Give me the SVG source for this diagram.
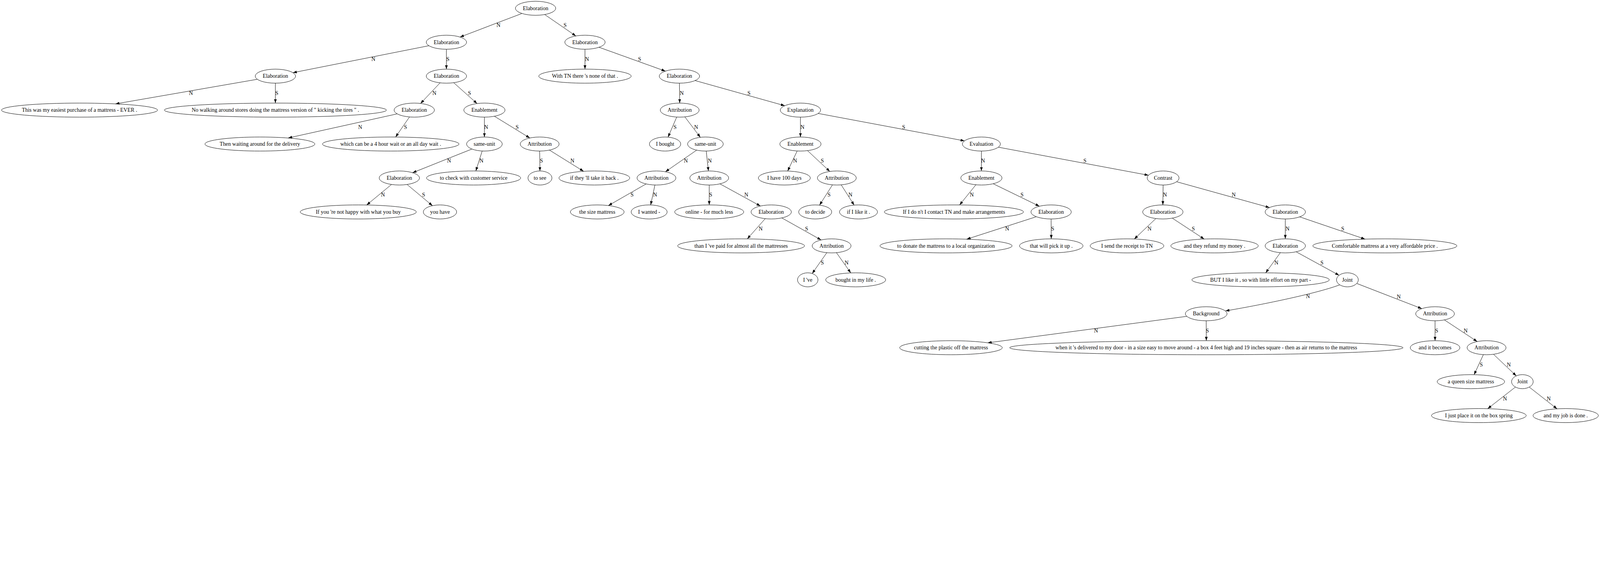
<svg xmlns="http://www.w3.org/2000/svg" width="5473" height="1451" viewBox="0 0 5473 1451">
<style>
svg{width:100vw;height:calc(100vw * 0.265119);display:block}
.nd ellipse{fill:none;stroke:#000;stroke-width:1.33}
text{font-family:"Liberation Serif","Times New Roman",serif;font-size:18.67px;text-anchor:middle;fill:#000}
.ed path{fill:none;stroke:#000;stroke-width:1.33;marker-end:url(#arr)}
</style>
<defs>
<marker id="arr" markerUnits="userSpaceOnUse" markerWidth="14" markerHeight="10" viewBox="0 0 14 10" refX="13.3" refY="4.67" orient="auto"><path d="M0,0 L13.3,4.67 L0,9.33 z" fill="#000"/></marker>
</defs>
<rect width="5473" height="1451" fill="#fff"/>
<g id="edges" class="ed">
<g id="e1"><path d="M1785.4,46.0 L1573.6,126.7"/><text x="1705" y="92.3">N</text></g>
<g id="e2"><path d="M1863.2,49.7 L1969.8,123.0"/><text x="1933" y="92.3">S</text></g>
<g id="e3"><path d="M1467.1,156.3 L1001.9,248.5"/><text x="1277" y="208.4">N</text></g>
<g id="e4"><path d="M1527,168.4 L1527,236.4"/><text x="1532" y="208.4">S</text></g>
<g id="e5"><path d="M2001,168.4 L2001,236.4"/><text x="2008" y="208.4">N</text></g>
<g id="e6"><path d="M2049.0,161.6 L2276.0,243.2"/><text x="2188" y="208.4">S</text></g>
<g id="e7"><path d="M880.2,271.1 L395.0,355.2"/><text x="653" y="324.4">N</text></g>
<g id="e8"><path d="M942,284.4 L942,352.5"/><text x="947" y="324.4">S</text></g>
<g id="e9"><path d="M1505.4,283.2 L1438.6,353.7"/><text x="1486" y="324.4">N</text></g>
<g id="e10"><path d="M1552.0,282.8 L1631.9,354.1"/><text x="1606" y="324.4">S</text></g>
<g id="e11"><path d="M2324,284.4 L2325,352.5"/><text x="2332" y="324.4">N</text></g>
<g id="e12"><path d="M2377.7,275.5 L2684.3,361.4"/><text x="2562" y="324.4">S</text></g>
<g id="e13"><path d="M1358.7,389.3 L986,471.7"/><text x="1232" y="440.5">N</text></g>
<g id="e14"><path d="M1400.8,399.8 L1353.1,468.6"/><text x="1387" y="440.5">S</text></g>
<g id="e15"><path d="M1657,400.5 L1657,468.5"/><text x="1663" y="440.5">N</text></g>
<g id="e16"><path d="M1691.2,397.5 L1812.3,471.8"/><text x="1769" y="440.5">S</text></g>
<g id="e17"><path d="M2314.8,400.2 L2285.2,468.9"/><text x="2309" y="440.5">S</text></g>
<g id="e18"><path d="M2342.6,399.6 L2395.6,469.5"/><text x="2381" y="440.5">N</text></g>
<g id="e19"><path d="M2738,400.5 L2738,468.5"/><text x="2745" y="440.5">N</text></g>
<g id="e20"><path d="M2798.7,387.9 L3299.0,481.6"/><text x="3091" y="440.5">S</text></g>
<g id="e21"><path d="M1614.2,509.6 L1411.4,590.5"/><text x="1536" y="556.5">N</text></g>
<g id="e22"><path d="M1649.4,516.3 L1627.6,584.6"/><text x="1647" y="556.5">N</text></g>
<g id="e23"><path d="M1846,516.5 L1847,584.6"/><text x="1852" y="556.5">S</text></g>
<g id="e24"><path d="M1879.4,513.2 L1996.2,585.7"/><text x="1958" y="556.5">N</text></g>
<g id="e25"><path d="M2382.9,513.4 L2276.2,587.3"/><text x="2346" y="556.5">N</text></g>
<g id="e26"><path d="M2415.7,516.5 L2423.3,584.6"/><text x="2428" y="556.5">N</text></g>
<g id="e27"><path d="M2726.8,516.2 L2694.3,584.8"/><text x="2720" y="556.5">N</text></g>
<g id="e28"><path d="M2762.2,515.0 L2838.5,586.2"/><text x="2813" y="556.5">S</text></g>
<g id="e29"><path d="M3357,516.5 L3357,584.6"/><text x="3362.5" y="556.5">N</text></g>
<g id="e30"><path d="M3415.0,503.3 L3928.4,599.2"/><text x="3711" y="556.5">S</text></g>
<g id="e31"><path d="M1339.2,630.7 L1254.2,701.0"/><text x="1310" y="672.6">N</text></g>
<g id="e32"><path d="M1392.5,630.8 L1479.3,703.3"/><text x="1449" y="672.6">S</text></g>
<g id="e33"><path d="M2210.1,628.9 L2081.1,702.9"/><text x="2162" y="672.6">S</text></g>
<g id="e34"><path d="M2240.3,632.5 L2225.7,700.8"/><text x="2241" y="672.6">N</text></g>
<g id="e35"><path d="M2426,632.6 L2426,700.7"/><text x="2431" y="672.6">S</text></g>
<g id="e36"><path d="M2462.6,628.6 L2601.0,704.4"/><text x="2553" y="672.6">N</text></g>
<g id="e37"><path d="M2847.6,632.0 L2803.3,701.5"/><text x="2836" y="672.6">S</text></g>
<g id="e38"><path d="M2877.4,632.0 L2921.7,701.3"/><text x="2909" y="672.6">N</text></g>
<g id="e39"><path d="M3338.3,631.7 L3282.4,700.8"/><text x="3324" y="672.6">N</text></g>
<g id="e40"><path d="M3397.4,628.3 L3555.4,705.2"/><text x="3496" y="672.6">S</text></g>
<g id="e41"><path d="M3978.6,632.6 L3977.7,700.7"/><text x="3985" y="672.6">N</text></g>
<g id="e42"><path d="M4024.7,621.4 L4342.6,709.7"/><text x="4220" y="672.6">N</text></g>
<g id="e43"><path d="M2617.6,747.6 L2556.2,816.8"/><text x="2602" y="788.7">N</text></g>
<g id="e44"><path d="M2674.3,745.1 L2808.7,820.5"/><text x="2759" y="788.7">S</text></g>
<g id="e45"><path d="M3544.9,741.0 L3306.6,817.9"/><text x="3445" y="788.7">N</text></g>
<g id="e46"><path d="M3595.5,748.7 L3596,816.7"/><text x="3601" y="788.7">S</text></g>
<g id="e47"><path d="M3953.9,747.2 L3879.9,817.2"/><text x="3932" y="788.7">N</text></g>
<g id="e48"><path d="M4010.0,745.9 L4119.0,817.4"/><text x="4082" y="788.7">S</text></g>
<g id="e49"><path d="M4396.5,748.7 L4396.5,816.7"/><text x="4404" y="788.7">N</text></g>
<g id="e50"><path d="M4445.8,741.5 L4669.3,817.6"/><text x="4593" y="788.7">S</text></g>
<g id="e51"><path d="M2828.2,864.0 L2778.2,935.2"/><text x="2813" y="904.7">S</text></g>
<g id="e52"><path d="M2861.1,863.9 L2910.2,933.1"/><text x="2896" y="904.7">N</text></g>
<g id="e53"><path d="M4379.6,864.0 L4329.4,932.9"/><text x="4366" y="904.7">N</text></g>
<g id="e54"><path d="M4433.6,860.9 L4580.6,941.3"/><text x="4522" y="904.7">S</text></g>
<g id="e55"><path d="M4582.5,974 C4500,1005 4300,1045 4192,1063"/><text x="4474" y="1019.5">N</text></g>
<g id="e56"><path d="M4641.0,969.2 L4863.5,1055.3"/><text x="4784.6" y="1020.8">N</text></g>
<g id="e57"><path d="M4059.6,1081.6 L3378.8,1172.2"/><text x="3749" y="1136.8">N</text></g>
<g id="e58"><path d="M4126,1096.8 L4126.4,1164.9"/><text x="4130" y="1136.8">S</text></g>
<g id="e59"><path d="M4908.8,1096.8 L4908.8,1164.9"/><text x="4914.5" y="1136.8">S</text></g>
<g id="e60"><path d="M4940.7,1093.8 L5053.0,1167.8"/><text x="5013.5" y="1136.8">N</text></g>
<g id="e61"><path d="M5074.1,1212.6 L5042.4,1281.1"/><text x="5067" y="1252.9">S</text></g>
<g id="e62"><path d="M5108.7,1211.3 L5186.6,1285.2"/><text x="5161" y="1252.9">N</text></g>
<g id="e63"><path d="M5183.8,1323.4 L5088.8,1397.4"/><text x="5148" y="1369">N</text></g>
<g id="e64"><path d="M5231.1,1323.5 L5326.1,1397.9"/><text x="5297.7" y="1369">N</text></g>
</g>
<g id="nodes" class="nd">
<g id="n0"><ellipse cx="1832" cy="28.3" rx="69" ry="24"/><text x="1832" y="34.3">Elaboration</text></g>
<g id="n1"><ellipse cx="1527" cy="144.4" rx="69" ry="24"/><text x="1527" y="150.4">Elaboration</text></g>
<g id="n2"><ellipse cx="2001" cy="144.4" rx="69" ry="24"/><text x="2001" y="150.4">Elaboration</text></g>
<g id="n3"><ellipse cx="942" cy="260.4" rx="69" ry="24"/><text x="942" y="266.4">Elaboration</text></g>
<g id="n4"><ellipse cx="1527" cy="260.4" rx="69" ry="24"/><text x="1527" y="266.4">Elaboration</text></g>
<g id="n5"><ellipse cx="2001" cy="260.4" rx="158" ry="24"/><text x="2001" y="266.4">With TN there 's none of that .</text></g>
<g id="n6"><ellipse cx="2324" cy="260.4" rx="69" ry="24"/><text x="2324" y="266.4">Elaboration</text></g>
<g id="n7"><ellipse cx="272" cy="376.5" rx="267" ry="24"/><text x="272" y="382.5">This was my easiest purchase of a mattress - EVER .</text></g>
<g id="n8"><ellipse cx="942" cy="376.5" rx="380" ry="24"/><text x="942" y="382.5">No walking around stores doing the mattress version of &quot; kicking the tires &quot; .</text></g>
<g id="n9"><ellipse cx="1417" cy="376.5" rx="69" ry="24"/><text x="1417" y="382.5">Elaboration</text></g>
<g id="n10"><ellipse cx="1657" cy="376.5" rx="70.5" ry="24"/><text x="1657" y="382.5">Enablement</text></g>
<g id="n11"><ellipse cx="2325" cy="376.5" rx="66.5" ry="24"/><text x="2325" y="382.5">Attribution</text></g>
<g id="n12"><ellipse cx="2738" cy="376.5" rx="69" ry="24"/><text x="2738" y="382.5">Explanation</text></g>
<g id="n13"><ellipse cx="889" cy="492.5" rx="188" ry="24"/><text x="889" y="498.5">Then waiting around for the delivery</text></g>
<g id="n14"><ellipse cx="1336.5" cy="492.5" rx="233.5" ry="24"/><text x="1336.5" y="498.5">which can be a 4 hour wait or an all day wait .</text></g>
<g id="n15"><ellipse cx="1657" cy="492.5" rx="61" ry="24"/><text x="1657" y="498.5">same-unit</text></g>
<g id="n16"><ellipse cx="1846" cy="492.5" rx="66.5" ry="24"/><text x="1846" y="498.5">Attribution</text></g>
<g id="n17"><ellipse cx="2275" cy="492.5" rx="53.6" ry="24"/><text x="2275" y="498.5">I bought</text></g>
<g id="n18"><ellipse cx="2413" cy="492.5" rx="61" ry="24"/><text x="2413" y="498.5">same-unit</text></g>
<g id="n19"><ellipse cx="2738" cy="492.5" rx="70.5" ry="24"/><text x="2738" y="498.5">Enablement</text></g>
<g id="n20"><ellipse cx="3357" cy="492.5" rx="65" ry="24"/><text x="3357" y="498.5">Evaluation</text></g>
<g id="n21"><ellipse cx="1366" cy="608.6" rx="69" ry="24"/><text x="1366" y="614.6">Elaboration</text></g>
<g id="n22"><ellipse cx="1620" cy="608.6" rx="161" ry="24"/><text x="1620" y="614.6">to check with customer service</text></g>
<g id="n23"><ellipse cx="1847" cy="608.6" rx="41" ry="24"/><text x="1847" y="614.6">to see</text></g>
<g id="n24"><ellipse cx="2033" cy="608.6" rx="121" ry="24"/><text x="2033" y="614.6">if they 'll take it back .</text></g>
<g id="n25"><ellipse cx="2245.5" cy="608.6" rx="66.5" ry="24"/><text x="2245.5" y="614.6">Attribution</text></g>
<g id="n26"><ellipse cx="2426" cy="608.6" rx="66.5" ry="24"/><text x="2426" y="614.6">Attribution</text></g>
<g id="n27"><ellipse cx="2683" cy="608.6" rx="89" ry="24"/><text x="2683" y="614.6">I have 100 days</text></g>
<g id="n28"><ellipse cx="2862.5" cy="608.6" rx="66.5" ry="24"/><text x="2862.5" y="614.6">Attribution</text></g>
<g id="n29"><ellipse cx="3357" cy="608.6" rx="70.5" ry="24"/><text x="3357" y="614.6">Enablement</text></g>
<g id="n30"><ellipse cx="3978.6" cy="608.6" rx="54.5" ry="24"/><text x="3978.6" y="614.6">Contrast</text></g>
<g id="n31"><ellipse cx="1225.5" cy="724.7" rx="198.5" ry="24"/><text x="1225.5" y="730.7">If you 're not happy with what you buy</text></g>
<g id="n32"><ellipse cx="1505" cy="724.7" rx="57" ry="24"/><text x="1505" y="730.7">you have</text></g>
<g id="n33"><ellipse cx="2043" cy="724.7" rx="92" ry="24"/><text x="2043" y="730.7">the size mattress</text></g>
<g id="n34"><ellipse cx="2220.5" cy="724.7" rx="61.6" ry="24"/><text x="2220.5" y="730.7">I wanted -</text></g>
<g id="n35"><ellipse cx="2426" cy="724.7" rx="118" ry="24"/><text x="2426" y="730.7">online - for much less</text></g>
<g id="n36"><ellipse cx="2638" cy="724.7" rx="69" ry="24"/><text x="2638" y="730.7">Elaboration</text></g>
<g id="n37"><ellipse cx="2788.5" cy="724.7" rx="56.5" ry="24"/><text x="2788.5" y="730.7">to decide</text></g>
<g id="n38"><ellipse cx="2936.6" cy="724.7" rx="65" ry="24"/><text x="2936.6" y="730.7">if I like it .</text></g>
<g id="n39"><ellipse cx="3263" cy="724.7" rx="238" ry="24"/><text x="3263" y="730.7">If I do n't I contact TN and make arrangements</text></g>
<g id="n40"><ellipse cx="3595.5" cy="724.7" rx="69" ry="24"/><text x="3595.5" y="730.7">Elaboration</text></g>
<g id="n41"><ellipse cx="3977.7" cy="724.7" rx="69" ry="24"/><text x="3977.7" y="730.7">Elaboration</text></g>
<g id="n42"><ellipse cx="4396.5" cy="724.7" rx="69" ry="24"/><text x="4396.5" y="730.7">Elaboration</text></g>
<g id="n43"><ellipse cx="2535" cy="840.7" rx="217" ry="24"/><text x="2535" y="846.7">than I 've paid for almost all the mattresses</text></g>
<g id="n44"><ellipse cx="2844.6" cy="840.7" rx="66.5" ry="24"/><text x="2844.6" y="846.7">Attribution</text></g>
<g id="n45"><ellipse cx="3236" cy="840.7" rx="226" ry="24"/><text x="3236" y="846.7">to donate the mattress to a local organization</text></g>
<g id="n46"><ellipse cx="3596" cy="840.7" rx="108.5" ry="24"/><text x="3596" y="846.7">that will pick it up .</text></g>
<g id="n47"><ellipse cx="3855" cy="840.7" rx="126" ry="24"/><text x="3855" y="846.7">I send the receipt to TN</text></g>
<g id="n48"><ellipse cx="4154.5" cy="840.7" rx="149.5" ry="24"/><text x="4154.5" y="846.7">and they refund my money .</text></g>
<g id="n49"><ellipse cx="4396.5" cy="840.7" rx="69" ry="24"/><text x="4396.5" y="846.7">Elaboration</text></g>
<g id="n50"><ellipse cx="4737" cy="840.7" rx="246.4" ry="24"/><text x="4737" y="846.7">Comfortable mattress at a very affordable price .</text></g>
<g id="n51"><ellipse cx="2763" cy="956.8" rx="35" ry="24"/><text x="2763" y="962.8">I 've</text></g>
<g id="n52"><ellipse cx="2927" cy="956.8" rx="102.7" ry="24"/><text x="2927" y="962.8">bought in my life .</text></g>
<g id="n53"><ellipse cx="4312" cy="956.8" rx="235" ry="24"/><text x="4312" y="962.8">BUT I like it , so with little effort on my part -</text></g>
<g id="n54"><ellipse cx="4609" cy="956.8" rx="37.3" ry="24"/><text x="4609" y="962.8">Joint</text></g>
<g id="n55"><ellipse cx="4126" cy="1072.8" rx="71.4" ry="24"/><text x="4126" y="1078.8">Background</text></g>
<g id="n56"><ellipse cx="4908.8" cy="1072.8" rx="66.2" ry="24"/><text x="4908.8" y="1078.8">Attribution</text></g>
<g id="n57"><ellipse cx="3253" cy="1188.9" rx="175.4" ry="24"/><text x="3253" y="1194.9">cutting the plastic off the mattress</text></g>
<g id="n58"><ellipse cx="4126.4" cy="1188.9" rx="672.7" ry="24"/><text x="4126.4" y="1194.9">when it 's delivered to my door - in a size easy to move around - a box 4 feet high and 19 inches square - then as air returns to the mattress</text></g>
<g id="n59"><ellipse cx="4908.8" cy="1188.9" rx="85" ry="24"/><text x="4908.8" y="1194.9">and it becomes</text></g>
<g id="n60"><ellipse cx="5085" cy="1188.9" rx="66.6" ry="24"/><text x="5085" y="1194.9">Attribution</text></g>
<g id="n61"><ellipse cx="5031.4" cy="1305" rx="115.3" ry="24"/><text x="5031.4" y="1311">a queen size mattress</text></g>
<g id="n62"><ellipse cx="5207.5" cy="1305" rx="37" ry="24"/><text x="5207.5" y="1311">Joint</text></g>
<g id="n63"><ellipse cx="5058.6" cy="1421" rx="162" ry="24"/><text x="5058.6" y="1427">I just place it on the box spring</text></g>
<g id="n64"><ellipse cx="5355.7" cy="1421" rx="111.6" ry="24"/><text x="5355.7" y="1427">and my job is done .</text></g>
</g>
</svg>
